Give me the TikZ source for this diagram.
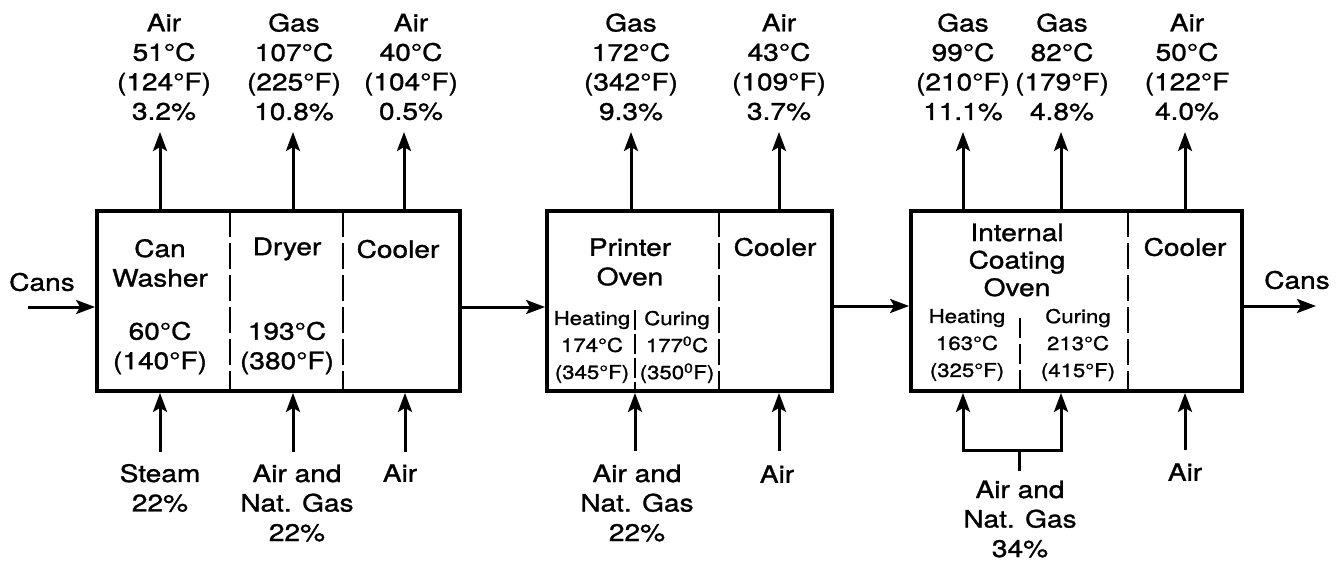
\documentclass[tikz,border=0pt]{standalone}
\usepackage{fontspec}
\setmainfont[FakeStretch=1.17,FakeBold=1.2]{TeX Gyre Heros}
\usetikzlibrary{arrows.meta}
\tikzset{
 box/.style={draw, line width=3.8pt, minimum height=180pt, inner sep=0pt},
 divline/.style={line width=2.8pt, dash pattern=on 26pt off 6pt},
 arr/.style={line width=3pt, -{Stealth[length=19pt,width=14pt,inset=4pt]}},
 ln/.style={line width=3pt, line cap=rect},
 lbl/.style={align=center, font=\fontsize{24}{29.5}\selectfont, inner sep=0pt},
 sml/.style={align=center, font=\fontsize{19}{27}\selectfont, inner sep=0pt},
}
\begin{document}
\begin{tikzpicture}[x=1pt,y=-1pt]
\useasboundingbox (0,0) rectangle (1337,560);
% boxes
\node[box, minimum width=363pt] (b1) at (278.5,301) {};
\node[box, minimum width=285pt] (b2) at (689.5,301) {};
\node[box, minimum width=331pt] (b3) at (1076.5,301) {};
% dividers
\draw[divline] (230,211) -- (230,391);
\draw[divline] (343,211) -- (343,391);
\draw[divline] (719,211) -- (719,391);
\draw[divline, dash pattern=on 20pt off 4pt] (635,310) -- (635,391);
\draw[divline] (1128,211) -- (1128,391);
\draw[divline, dash pattern=on 20pt off 6pt] (1020,318) -- (1020,391);
% texts inside boxes
\node[lbl] (t11) at (160,263) {Can\\Washer};
\node[lbl] (t12) at (160,348) {60°C\\(140°F)};
\node[lbl] (t13) at (287,249) {Dryer};
\node[lbl] (t14) at (287,348) {193°C\\(380°F)};
\node[lbl] (t15) at (398,249) {Cooler};
\node[lbl] (t21) at (630,262) {Printer\\Oven};
\node[lbl] (t22) at (775,247) {Cooler};
\node[sml] (t23) at (592,347) {Heating\\174°C\\(345°F)};
\node[sml] (t24) at (677,347) {Curing\\177\textsuperscript{0}C\\(350\textsuperscript{0}F)};
\node[lbl, font=\fontsize{24}{27.5}\selectfont] (t31) at (1017,260) {Internal\\Coating\\Oven};
\node[lbl] (t32) at (1185,247) {Cooler};
\node[sml] (t33) at (967,345) {Heating\\163°C\\(325°F)};
\node[sml] (t34) at (1078,345) {Curing\\213°C\\(415°F)};
% main flow
\node[lbl] (cansin) at (42,282) {Cans};
\node[lbl] (cansout) at (1297,280) {Cans};
\coordinate (cin) at (28,307);
\coordinate (m1) at (0,307);
\coordinate (m2) at (0,306);
\coordinate (cout) at (1316,306);
\draw[arr] (cin) -- (b1.west |- cin);
\draw[arr] (b1.east |- m1) -- (b2.west |- m1);
\draw[arr] (b2.east |- m2) -- (b3.west |- m2);
\draw[arr] (b3.east |- cout) -- (cout);
% top outputs
\node[lbl] (o1) at (164,67) {Air\\51°C\\(124°F)\\3.2\%};
\node[lbl] (o2) at (294,67) {Gas\\107°C\\(225°F)\\10.8\%};
\node[lbl] (o3) at (411,67) {Air\\40°C\\(104°F)\\0.5\%};
\node[lbl] (o4) at (631,67) {Gas\\172°C\\(342°F)\\9.3\%};
\node[lbl] (o5) at (779,67) {Air\\43°C\\(109°F)\\3.7\%};
\node[lbl] (o6) at (963,67) {Gas\\99°C\\(210°F)\\11.1\%};
\node[lbl] (o7) at (1062,67) {Gas\\82°C\\(179°F)\\4.8\%};
\node[lbl] (o8) at (1187,67) {Air\\50°C\\(122°F\\4.0\%};
\coordinate (a1) at (160,132);
\coordinate (a2) at (293,132);
\coordinate (a3) at (404,132);
\coordinate (a4) at (631,132);
\coordinate (a5) at (779,132);
\coordinate (a6) at (963,132);
\coordinate (a7) at (1061,132);
\coordinate (a8) at (1185,132);
\draw[arr] (b1.north -| a1) -- (a1);
\draw[arr] (b1.north -| a2) -- (a2);
\draw[arr] (b1.north -| a3) -- (a3);
\draw[arr] (b2.north -| a4) -- (a4);
\draw[arr] (b2.north -| a5) -- (a5);
\draw[arr] (b3.north -| a6) -- (a6);
\draw[arr] (b3.north -| a7) -- (a7);
\draw[arr] (b3.north -| a8) -- (a8);
% bottom inputs
\node[lbl] (i1) at (160,488) {Steam\\22\%};
\node[lbl] (i2) at (297,503) {Air and\\Nat. Gas\\22\%};
\node[lbl] (i3) at (400,473) {Air};
\node[lbl] (i4) at (637,503) {Air and\\Nat. Gas\\22\%};
\node[lbl] (i5) at (777,474) {Air};
\node[lbl] (i6) at (1020,519) {Air and\\Nat. Gas\\34\%};
\node[lbl] (i7) at (1185,472) {Air};
\coordinate (s1) at (160,452);
\coordinate (s2) at (293,452);
\coordinate (s3) at (405,452);
\coordinate (s4) at (635,451);
\coordinate (s5) at (779,451);
\coordinate (s7) at (1185,450);
\draw[arr] (s1) -- (b1.south -| s1);
\draw[arr] (s2) -- (b1.south -| s2);
\draw[arr] (s3) -- (b1.south -| s3);
\draw[arr] (s4) -- (b2.south -| s4);
\draw[arr] (s5) -- (b2.south -| s5);
\draw[arr] (s7) -- (b3.south -| s7);
% split input for internal coating oven
\coordinate (bl) at (963,450);
\coordinate (br) at (1061,450);
\coordinate (bm) at (1019,450);
\coordinate (bs) at (1019,471);
\draw[ln] (bl) -- (br);
\draw[ln, line cap=butt] (bs) -- (bm);
\draw[arr] (bl) -- (b3.south -| bl);
\draw[arr] (br) -- (b3.south -| br);
\end{tikzpicture}
\end{document}
